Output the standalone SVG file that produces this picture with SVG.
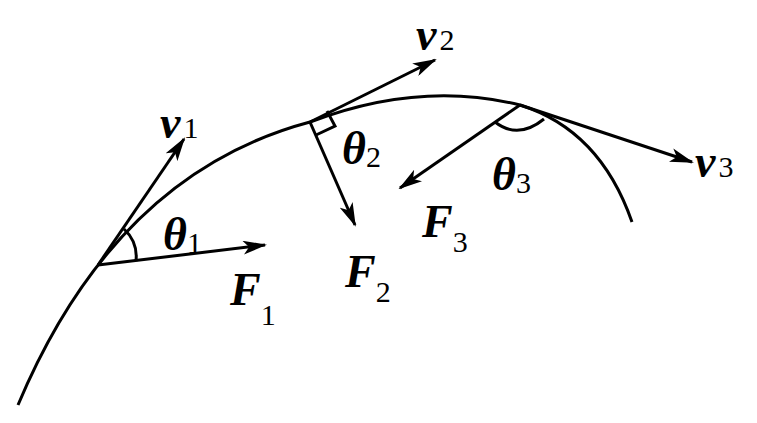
<svg xmlns="http://www.w3.org/2000/svg" width="757" height="423" viewBox="0 0 757 423">
<style>
.l{stroke:#000;stroke-width:3;fill:none}
.a{stroke:#000;stroke-width:3;fill:none;marker-end:url(#ah)}
.t{font-family:"Liberation Serif",serif;font-weight:bold;font-style:italic;font-size:46px}
.s{font-family:"Liberation Serif",serif;font-size:30px;font-style:normal;font-weight:normal}
</style>
<defs>
<marker id="ah" viewBox="0 0 24 14" refX="22" refY="7" markerWidth="24" markerHeight="14" markerUnits="userSpaceOnUse" orient="auto">
<path d="M0,0 L24,7 L0,14 L6,7 Z" fill="#000"/>
</marker>
</defs>
<rect width="757" height="423" fill="#fff"/>
<path class="l" d="M18,405 Q115,174 310,122 Q420,80 520,105 Q600,130 632,222"/>
<g id="connectors">
<line class="a" x1="98" y1="265" x2="184" y2="139"/>
<line class="a" x1="98" y1="265" x2="265" y2="245"/>
<line class="a" x1="310" y1="122" x2="435" y2="60"/>
<line class="a" x1="310" y1="122" x2="355" y2="225"/>
<line class="a" x1="520" y1="105" x2="692" y2="162"/>
<line class="a" x1="520" y1="105" x2="400" y2="188"/>
<path class="l" d="M124,229 Q138,242 136,261"/>
<path class="l" d="M316,135 L335,126 L327,111"/>
<path class="l" d="M495,122 Q518,140 544,119"/>
</g>
<g id="labels">
<text class="t" x="160" y="138">v<tspan class="s" dx="3">1</tspan></text>
<text class="t" x="163" y="250">θ<tspan class="s" dy="3">1</tspan></text>
<text class="t" x="230" y="305">F<tspan class="s" dy="20">1</tspan></text>
<text class="t" x="416" y="50">v<tspan class="s" dx="3">2</tspan></text>
<text class="t" x="342" y="164">θ<tspan class="s" dy="3">2</tspan></text>
<text class="t" x="345" y="287">F<tspan class="s" dy="15">2</tspan></text>
<text class="t" x="492" y="190">θ<tspan class="s" dy="3">3</tspan></text>
<text class="t" x="422" y="237">F<tspan class="s" dy="15">3</tspan></text>
<text class="t" x="695" y="177">v<tspan class="s" dx="3">3</tspan></text>
</g>
</svg>
